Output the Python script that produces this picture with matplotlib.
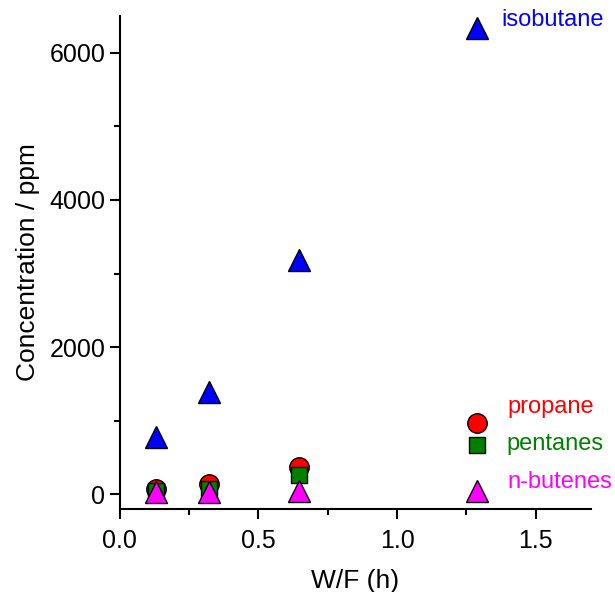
import matplotlib.pyplot as plt
from matplotlib.ticker import MultipleLocator

plt.rcParams['font.family'] = ['Liberation Sans', 'DejaVu Sans']

# W/F values (h) and product concentrations (ppm)
wf = [0.129, 0.3225, 0.645, 1.29]
isobutane = [780, 1395, 3185, 6335]
propane = [72, 140, 375, 970]
pentanes = [50, 80, 263, 675]
n_butenes = [35, 38, 40, 50]

fig = plt.figure(figsize=(6.15, 5.92), dpi=100)
ax = fig.add_axes([0.195, 0.140, 0.766, 0.833])

ax.plot(wf, isobutane, '^', color='blue', markersize=16, markeredgecolor='black', markeredgewidth=1)
ax.plot(wf, propane, 'o', color='red', markersize=14, markeredgecolor='black', markeredgewidth=1)
ax.plot(wf, pentanes, 's', color='green', markersize=12, markeredgecolor='black', markeredgewidth=1)
ax.plot(wf, n_butenes, '^', color='magenta', markersize=16, markeredgecolor='black', markeredgewidth=1)

# series names written next to the last points
ax.text(1.375, 6440, 'isobutane', color='blue', fontsize=17, va='center')
ax.text(1.40, 1190, 'propane', color='red', fontsize=17, va='center')
ax.text(1.395, 690, 'pentanes', color='green', fontsize=17, va='center')
ax.text(1.40, 170, 'n-butenes', color='magenta', fontsize=17, va='center')

ax.set_xlim(0, 1.7)
ax.set_ylim(-200, 6500)
ax.xaxis.set_major_locator(MultipleLocator(0.5))
ax.xaxis.set_minor_locator(MultipleLocator(0.25))
ax.yaxis.set_major_locator(MultipleLocator(2000))
ax.yaxis.set_minor_locator(MultipleLocator(1000))

ax.spines['top'].set_visible(False)
ax.spines['right'].set_visible(False)
for s in ['left', 'bottom']:
    ax.spines[s].set_linewidth(1.5)
ax.tick_params(which='major', length=7, width=1.5, labelsize=18)
ax.tick_params(which='minor', length=4, width=1.5)
ax.tick_params(axis='x', which='major', pad=7)

ax.set_xlabel('W/F (h)', fontsize=19, labelpad=12)
ax.set_ylabel('Concentration / ppm', fontsize=19, labelpad=7)

fig.savefig('out.png', dpi=100)
